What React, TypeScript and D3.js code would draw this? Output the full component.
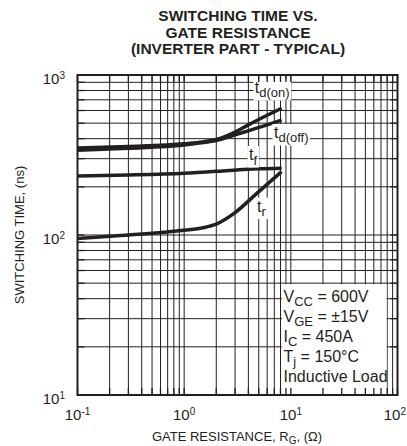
import React, { useEffect, useRef } from "react";
import * as d3 from "d3";

// gate resistance (ohm) / switching time (ns)
const tdOnR = [0.1, 0.3, 1, 1.5, 2, 3, 4, 6, 8.2];
const tdOnT = [350, 358, 372, 382, 395, 440, 488, 560, 620];
const tdOffR = [0.1, 0.3, 1, 1.5, 2, 3, 4, 6, 8.2];
const tdOffT = [338, 348, 365, 378, 390, 422, 448, 488, 523];
const tfR = [0.1, 0.3, 1, 2, 3.3, 5, 8.2];
const tfT = [234, 237, 243, 250, 256, 259, 261];
const trR = [0.1, 0.3, 1, 1.5, 2, 3, 4.8, 8.2];
const trT = [95, 100, 107, 111, 117, 138, 182, 249];

const xTickVals = [0.1, 1, 10, 100];
const xTickExp = ["-1", "0", "1", "2"];
const yTickVals = [10, 100, 1000];
const yTickExp = ["1", "2", "3"];

const titleLines = ["SWITCHING TIME VS.", "GATE RESISTANCE", "(INVERTER PART - TYPICAL)"];

const curveLabels = [
  { sub: "d(on)", at: [4.6, 772] },
  { sub: "d(off)", at: [6.95, 404] },
  { sub: "f", at: [4.06, 294] },
  { sub: "r", at: [4.82, 140] },
];

const conditions = [
  ["V", "CC", " = 600V"],
  ["V", "GE", " = \u00b115V"],
  ["I", "C", " = 450A"],
  ["T", "j", " = 150\u00b0C"],
  ["Inductive Load", "", ""],
];

const FONT = "'Liberation Sans', Arial, Helvetica, sans-serif";
const INK = "#231f20";

function SwitchingChart() {
  const svgRef = useRef<SVGSVGElement>(null);

  useEffect(() => {
    const svg = d3.select(svgRef.current);
    svg.selectAll("*").remove();

    const x = d3.scaleLog().domain([0.1, 100]).range([77.5, 397.5]);
    const y = d3.scaleLog().domain([10, 1000]).range([395, 75]);
    const [x0, x1] = x.range();
    const [y0, y1] = y.range();

    const xGrid = d3.range(-1, 2).flatMap(e => d3.range(1, 10).map(k => k * Math.pow(10, e))).concat([100]);
    const yGrid = d3.range(1, 3).flatMap(e => d3.range(1, 10).map(k => k * Math.pow(10, e))).concat([1000]);

    // ---------------- grid ----------------
    const grid = svg.append("g").attr("stroke", INK).attr("stroke-width", 1);
    xGrid.forEach(v => {
      grid.append("line").attr("x1", x(v)).attr("x2", x(v)).attr("y1", y1).attr("y2", y0);
    });
    yGrid.forEach(v => {
      grid.append("line").attr("x1", x0).attr("x2", x1).attr("y1", y(v)).attr("y2", y(v));
    });

    // ---------------- conditions box ----------------
    const bx = x(8) + 1.5;
    const by = y(50) + 1;
    svg.append("rect")
      .attr("x", bx)
      .attr("y", by)
      .attr("width", x(80) - 0.5 - bx)
      .attr("height", y0 - by)
      .attr("fill", "#fff");

    const cond = svg.append("g").attr("font-family", FONT).attr("fill", INK);
    conditions.forEach((c, i) => {
      const t = cond.append("text")
        .attr("x", bx + 1.5)
        .attr("y", by + 18 + i * 20)
        .attr("font-size", 16);
      t.append("tspan").text(c[0]);
      if (c[1]) {
        t.append("tspan").attr("font-size", 13).attr("dy", 4).text(c[1]);
        t.append("tspan").attr("dy", -4).text(c[2]);
      }
    });

    // ---------------- curves ----------------
    const line = d3.line<number[]>()
      .x(d => x(d[0]))
      .y(d => y(d[1]))
      .curve(d3.curveMonotoneX);

    const series = [
      d3.zip(tdOnR, tdOnT),
      d3.zip(tdOffR, tdOffT),
      d3.zip(tfR, tfT),
      d3.zip(trR, trT),
    ];
    series.forEach(s => {
      svg.append("path")
        .datum(s)
        .attr("fill", "none")
        .attr("stroke", INK)
        .attr("stroke-width", 3.5)
        .attr("d", line);
    });

    // ---------------- curve labels ----------------
    curveLabels.forEach(l => {
      const g = svg.append("g");
      const bg = g.append("rect").attr("fill", "#fff");
      const t = g.append("text")
        .attr("x", x(l.at[0]))
        .attr("y", y(l.at[1]))
        .attr("font-family", FONT)
        .attr("font-size", 16)
        .attr("fill", INK);
      t.append("tspan").text("t");
      t.append("tspan").attr("font-size", 13).attr("dy", 4.5).text(l.sub);
      const b = (t.node() as SVGTextElement).getBBox();
      bg.attr("x", b.x - 1.5).attr("y", b.y).attr("width", b.width + 3).attr("height", b.height);
    });

    // ---------------- frame & ticks ----------------
    svg.append("rect")
      .attr("x", x0).attr("y", y1)
      .attr("width", x1 - x0).attr("height", y0 - y1)
      .attr("fill", "none").attr("stroke", INK).attr("stroke-width", 2);

    const ticks = svg.append("g").attr("stroke", INK).attr("stroke-width", 1.3);
    xGrid.forEach(v => {
      ticks.append("line").attr("x1", x(v)).attr("x2", x(v)).attr("y1", y0).attr("y2", y0 - 7);
      ticks.append("line").attr("x1", x(v)).attr("x2", x(v)).attr("y1", y1).attr("y2", y1 + 7);
    });
    yGrid.forEach(v => {
      ticks.append("line").attr("x1", x0).attr("x2", x0 + 7).attr("y1", y(v)).attr("y2", y(v));
      ticks.append("line").attr("x1", x1).attr("x2", x1 - 7).attr("y1", y(v)).attr("y2", y(v));
    });

    // ---------------- tick labels ----------------
    const lab = svg.append("g").attr("font-family", FONT).attr("fill", INK).attr("font-size", 15);
    xTickVals.forEach((v, i) => {
      const last = i === xTickVals.length - 1;
      const t = lab.append("text")
        .attr("x", last ? 406 : x(v))
        .attr("y", 420)
        .attr("text-anchor", last ? "end" : "middle");
      t.append("tspan").text("10");
      t.append("tspan").attr("font-size", 10).attr("dy", -5.5).text(xTickExp[i]);
    });
    yTickVals.forEach((v, i) => {
      const t = lab.append("text").attr("x", 65).attr("y", y(v) + 9).attr("text-anchor", "end");
      t.append("tspan").text("10");
      t.append("tspan").attr("font-size", 10).attr("dy", -5.5).text(yTickExp[i]);
    });

    // ---------------- axis titles ----------------
    const xt = svg.append("text")
      .attr("x", 237).attr("y", 441)
      .attr("text-anchor", "middle")
      .attr("font-family", FONT).attr("font-size", 13).attr("fill", INK);
    xt.append("tspan").text("GATE RESISTANCE, R");
    xt.append("tspan").attr("font-size", 10).attr("dy", 2.5).text("G");
    xt.append("tspan").attr("dy", -2.5).text(", (\u03a9)");

    svg.append("text")
      .attr("transform", `translate(24,${y(100)}) rotate(-90)`)
      .attr("text-anchor", "middle")
      .attr("font-family", FONT).attr("font-size", 13).attr("fill", INK)
      .text("SWITCHING TIME, (ns)");

    // ---------------- title ----------------
    titleLines.forEach((s, i) => {
      svg.append("text")
        .attr("x", 238).attr("y", 21 + i * 16.5)
        .attr("text-anchor", "middle")
        .attr("font-family", FONT).attr("font-size", 15.5).attr("font-weight", "bold")
        .attr("fill", INK)
        .text(s);
    });
  }, []);

  return (
    <svg
      ref={svgRef}
      width={407}
      height={446}
      style={{ position: "absolute", left: 0, top: 0, background: "#fff" }}
    />
  );
}

export default function App() {
  return <SwitchingChart />;
}
